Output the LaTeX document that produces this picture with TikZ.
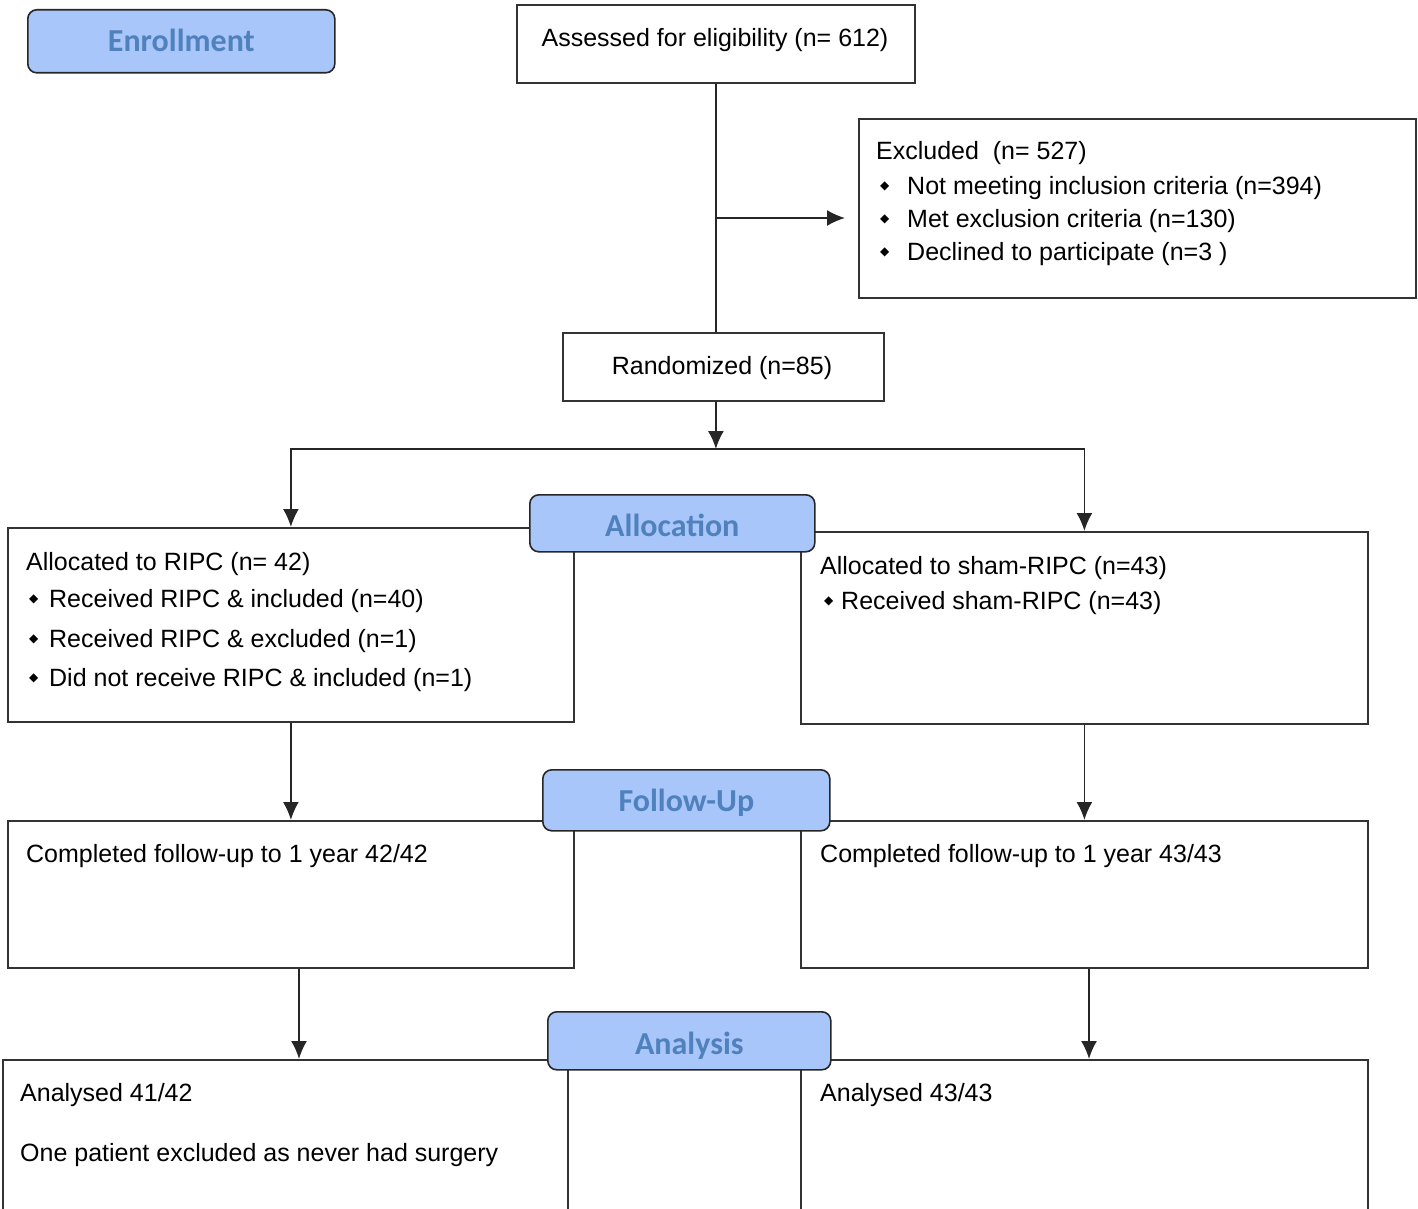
\documentclass[tikz,border=0pt]{standalone}
\usepackage{fontspec}
\setmainfont{Liberation Sans}
\newfontfamily\lblfont{Carlito}
\newfontfamily\djv{DejaVu Sans}
\usetikzlibrary{arrows.meta}
\definecolor{lblfill}{RGB}{169,198,250}
\definecolor{lbltext}{RGB}{79,129,189}
\newcommand{\bulmark}[1]{\makebox[#1][l]{\raisebox{4.5pt}{\djv\fontsize{12}{12}\selectfont ◆}}}
\begin{document}
\begin{tikzpicture}[x=1pt,y=-1pt,
  box/.style={draw=black!80, line width=1.8pt, rectangle, inner sep=0pt, anchor=north west},
  lbl/.style={draw=black!85, line width=1.6pt, fill=lblfill, rounded corners=9pt, inner sep=0pt,
    anchor=north west, font=\lblfont\bfseries\fontsize{32}{36}\selectfont, text=lbltext,
    text height=20.6pt, text depth=0pt},
  txt/.style={anchor=base west, inner sep=0pt, font=\fontsize{25}{30}\selectfont},
  ctxt/.style={anchor=base, inner sep=0pt, font=\fontsize{25}{30}\selectfont},
  arr/.style={draw=black!85, line width=1.8pt, -{Latex[length=18pt,width=16pt]}},
  ln/.style={draw=black!85, line width=1.8pt}]
\clip (0,0) rectangle (1418,1209);
\fill[white] (0,0) rectangle (1418,1209);

% boxes
\node[box, minimum width=398pt, minimum height=78pt] (assess) at (516,4) {};
\node[box, minimum width=557pt, minimum height=179pt] (excl) at (858,118) {};
\node[box, minimum width=321pt, minimum height=68pt] (rand) at (562,332) {};
\node[box, minimum width=566pt, minimum height=194pt] (allocL) at (7,527) {};
\node[box, minimum width=567pt, minimum height=192pt] (allocR) at (800,531) {};
\node[box, minimum width=566pt, minimum height=147pt] (fuL) at (7,820) {};
\node[box, minimum width=567pt, minimum height=147pt] (fuR) at (800,820) {};
\node[box, minimum width=565pt, minimum height=200pt] (anL) at (2,1059) {};
\node[box, minimum width=567pt, minimum height=200pt] (anR) at (800,1059) {};

% texts
\node[ctxt] (tAssess) at (715,47) {Assessed for eligibility (n= 612)};
\node[txt] (tEx0) at (876,160) {Excluded\ \ (n= 527)};
\node[txt] (tEx1) at (880,194) {\bulmark{27pt}Not meeting inclusion criteria (n=394)};
\node[txt] (tEx2) at (880,227) {\bulmark{27pt}Met exclusion criteria (n=130)};
\node[txt] (tEx3) at (880,260) {\bulmark{27pt}Declined to participate (n=3 )};
\node[ctxt] (tRand) at (722,374) {Randomized (n=85)};
\node[txt] (tAL0) at (26,570) {Allocated to RIPC (n= 42)};
\node[txt] (tAL1) at (29,607) {\bulmark{20pt}Received RIPC \& included (n=40)};
\node[txt] (tAL2) at (29,647) {\bulmark{20pt}Received RIPC \& excluded (n=1)};
\node[txt] (tAL3) at (29,686) {\bulmark{20pt}Did not receive RIPC \& included (n=1)};
\node[txt] (tAR0) at (820,574) {Allocated to sham-RIPC (n=43)};
\node[txt] (tAR1) at (824,609) {\bulmark{17pt}Received sham-RIPC (n=43)};
\node[txt] (tFL) at (26,862) {Completed follow-up to 1 year 42/42};
\node[txt] (tFR) at (820,862) {Completed follow-up to 1 year 43/43};
\node[txt] (tNL0) at (20,1101) {Analysed 41/42};
\node[txt] (tNL1) at (20,1161) {One patient excluded as never had surgery};
\node[txt] (tNR0) at (820,1101) {Analysed 43/43};

% connectors
\coordinate (jx) at (assess.south |- 0,218);
\coordinate (split) at (assess.south |- 0,449);
\coordinate (xl) at (299,0);
\coordinate (xr) at (1089,0);
\draw[ln] (assess.south) -- (assess.south |- rand.north);
\draw[arr, shorten >=13pt] (jx) -- (jx -| excl.west);
\draw[arr] (split |- rand.south) -- (split);
\draw[arr] (split) -| (allocL.north);
\draw[arr] (split) -| (allocR.north);
\draw[arr] (allocL.south) -- (fuL.north);
\draw[arr] (allocR.south) -- (fuR.north);
\draw[arr] (fuL.south -| xl) -- (anL.north -| xl);
\draw[arr] (fuR.south -| xr) -- (anR.north -| xr);

% stage labels
\node[lbl, minimum width=307pt, minimum height=63pt] (lEnr) at (27,9) {Enrollment};
\node[lbl, minimum width=285pt, minimum height=57pt, text height=26.6pt] (lAlloc) at (529,494) {Allocation};
\node[lbl, minimum width=287pt, minimum height=61pt, text height=22.6pt] (lFU) at (542,769) {Follow-Up};
\node[lbl, minimum width=283pt, minimum height=58pt, text height=26.6pt] (lAna) at (547,1011) {Analysis};
\end{tikzpicture}
\end{document}
